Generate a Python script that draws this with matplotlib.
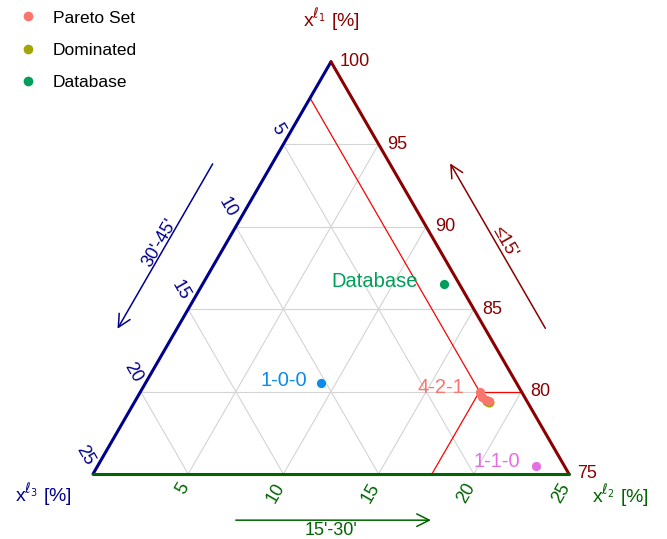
import numpy as np
import matplotlib
matplotlib.use('Agg')
from matplotlib import pyplot as plt
from matplotlib.lines import Line2D

plt.rcParams['font.family'] = ['Liberation Sans', 'DejaVu Sans']

#%% Data, compositions in % (x1 + x2 + x3 = 100)
pareto_x1 = [80.0, 79.7, 79.5, 79.4]
pareto_x2 = [17.8, 18.1, 18.4, 18.6]
pareto_x3 = [2.2, 2.2, 2.1, 2.0]

dominated_x1 = [79.45, 79.35]
dominated_x2 = [18.45, 18.6]
dominated_x3 = [2.1, 2.05]

ref_names = ['Database', '1-0-0', '1-1-0']
ref_x1 = [86.5, 80.5, 75.5]
ref_x2 = [12.7, 9.2, 23.0]
ref_x3 = [0.8, 10.3, 1.5]

x1_ticks = [75, 80, 85, 90, 95, 100]
x2_ticks = [5, 10, 15, 20, 25]
x3_ticks = [5, 10, 15, 20, 25]

#%% Styling
c_x1 = '#8B0000'
c_x2 = '#006400'
c_x3 = '#00008B'
c_pareto = '#F8766D'
c_dom = '#A3A500'
ref_colors = ['#00A05A', '#0C8CE9', '#E36FE0']
label_offsets = [(-19, 2), (-10, 2), (-11, 3)]   # points, right end of text
x1_min = 75.
span = 25.
s3 = np.sqrt(3) / 2


def tern(x1, x2, x3=None):
    a = (np.asarray(x1, float) - x1_min) / span
    b = np.asarray(x2, float) / span
    return b + a / 2, a * s3


BL = np.array(tern(75, 0, 25))
BR = np.array(tern(75, 25, 0))
TOP = np.array(tern(100, 0, 0))

#%% Figure
fig = plt.figure(figsize=(6.67, 5.39), dpi=100)
ax = fig.add_axes([0, 0, 1, 1])
ax.set_xlim(-93 / 476, 574 / 476)
ax.set_ylim(-65 / 476, 474 / 476)
ax.axis('off')

# grid
gkw = dict(color='#D4D4D4', lw=0.8, zorder=1)
for k in [5, 10, 15, 20]:
    ax.plot(*tern([75 + k, 75 + k], [0, 25 - k]), **gkw)
    ax.plot(*tern([75, 100 - k], [k, k]), **gkw)
    ax.plot(*tern([75, 100 - k], [25 - k, 0]), **gkw)

# projection lines of the first pareto point
p1, p2, p3 = pareto_x1[0], pareto_x2[0], pareto_x3[0]
rkw = dict(color='red', lw=0.9, zorder=2)
ax.plot(*tern([p1, 100 - p3], [p2, 0]), **rkw)
ax.plot(*tern([p1, p1], [p2, 100 - p1]), **rkw)
ax.plot(*tern([p1, 75], [p2, p2]), **rkw)

# triangle edges
ax.plot([BL[0], TOP[0]], [BL[1], TOP[1]], color=c_x3, lw=2.2, zorder=3, solid_capstyle='round')
ax.plot([TOP[0], BR[0]], [TOP[1], BR[1]], color=c_x1, lw=2.2, zorder=3, solid_capstyle='round')
ax.plot([BL[0], BR[0]], [BL[1], BR[1]], color=c_x2, lw=2.2, zorder=3, solid_capstyle='round')

# tick labels
fs_tick = 13
for v in x1_ticks:
    x, y = tern(v, 100 - v)
    ax.text(x + 0.018, y, str(v), color=c_x1, fontsize=fs_tick, ha='left', va='center')
g = 6 / 476
for v in x2_ticks:
    x, y = tern(75, v)
    ax.text(x - 0.5 * g, y - 2 * s3 * g, str(v), color=c_x2, fontsize=fs_tick,
            rotation=60, rotation_mode='anchor', ha='right', va='center')
for v in x3_ticks:
    x, y = tern(100 - v, 0)
    ax.text(x - 0.5 * g, y + 2 * s3 * g, str(v), color=c_x3, fontsize=fs_tick,
            rotation=-60, rotation_mode='anchor', ha='right', va='center')

# axis titles
fs_title = 14
ax.text(TOP[0], TOP[1] + 0.088, r'x$^{\ell_1}$ [%]', color=c_x1, fontsize=fs_title, ha='center', va='center')
ax.text(BL[0] - 0.105, BL[1] - 0.044, r'x$^{\ell_3}$ [%]', color=c_x3, fontsize=fs_title, ha='center', va='center')
ax.text(BR[0] + 0.107, BR[1] - 0.046, r'x$^{\ell_2}$ [%]', color=c_x2, fontsize=fs_title, ha='center', va='center')


# direction arrows alongside the edges
def edge_pt(p0, p1, s, d, normal):
    return p0 + s * (p1 - p0) + d * np.asarray(normal)


akw = dict(arrowstyle='->,head_length=0.9,head_width=0.45', lw=1.1, shrinkA=0, shrinkB=0)
n_left = (-s3, 0.5)
n_right = (s3, 0.5)
n_bot = (0, -1)
fs_arrow = 13
ax.annotate('', xy=edge_pt(BL, TOP, 0.29, 0.108, n_left), xytext=edge_pt(BL, TOP, 0.69, 0.108, n_left),
            arrowprops=dict(color=c_x3, **akw))
ax.text(*edge_pt(BL, TOP, 0.49, 0.122, n_left), "30'-45'", color=c_x3, fontsize=fs_arrow,
        rotation=60, ha='center', va='center', rotation_mode='anchor')
ax.annotate('', xy=edge_pt(BR, TOP, 0.69, 0.11, n_right), xytext=edge_pt(BR, TOP, 0.29, 0.11, n_right),
            arrowprops=dict(color=c_x1, **akw))
ax.text(*edge_pt(BR, TOP, 0.49, 0.127, n_right), "\u226415'", color=c_x1, fontsize=fs_arrow,
        rotation=-60, ha='center', va='center', rotation_mode='anchor')
ax.annotate('', xy=edge_pt(BL, BR, 0.71, 0.097, n_bot), xytext=edge_pt(BL, BR, 0.30, 0.097, n_bot),
            arrowprops=dict(color=c_x2, **akw))
ax.text(*edge_pt(BL, BR, 0.50, 0.119, n_bot), "15'-30'", color=c_x2, fontsize=fs_arrow,
        ha='center', va='center')

# points
ms = 44
ax.scatter(*tern(dominated_x1, dominated_x2), s=ms * 1.2, color=c_dom, lw=0, zorder=5)
ax.scatter(*tern(pareto_x1, pareto_x2), s=ms, color=c_pareto, lw=0, zorder=6)
for name, a1, a2, col, off in zip(ref_names, ref_x1, ref_x2, ref_colors, label_offsets):
    xy = tern(a1, a2)
    ax.scatter(*xy, s=ms, color=col, lw=0, zorder=6)
    ax.annotate(name, xy=xy, xytext=off, textcoords='offset points', color=col,
                fontsize=14.5, ha='right', va='center')
ax.annotate('4-2-1', xy=tern(p1, p2), xytext=(-11, 3), textcoords='offset points',
            color=c_pareto, fontsize=14.5, ha='right', va='center', zorder=7)

# legend
handles = [Line2D([], [], ls='', marker='o', ms=7, mew=0, color=c) for c in [c_pareto, c_dom, ref_colors[0]]]
ax.legend(handles, ['Pareto Set', 'Dominated', 'Database'], loc='upper left', bbox_to_anchor=(0, 1),
          bbox_transform=fig.transFigure, frameon=False, fontsize=12.5, borderaxespad=0.2,
          handlelength=2.0, handletextpad=0.45, labelspacing=0.98)

plt.savefig('out.png', dpi=100)
